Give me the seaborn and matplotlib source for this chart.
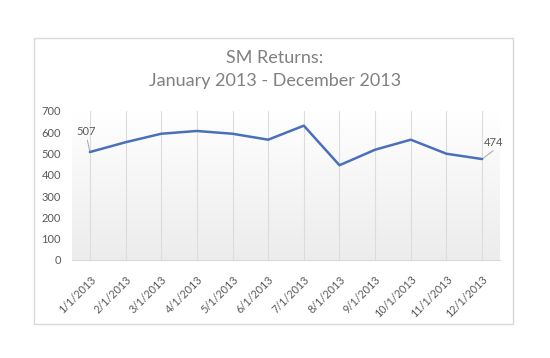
import numpy as np
import pandas as pd
import seaborn as sns
import matplotlib.pyplot as plt
from matplotlib.patches import Rectangle
from matplotlib.colors import LinearSegmentedColormap


months = ["1/1/2013", "2/1/2013", "3/1/2013", "4/1/2013", "5/1/2013", "6/1/2013",
          "7/1/2013", "8/1/2013", "9/1/2013", "10/1/2013", "11/1/2013", "12/1/2013"]
returns = [507, 553, 593, 606, 593, 565, 631, 445, 518, 565, 499, 474]

df = pd.DataFrame({"month": months, "returns": returns})

sns.set_style("white")
plt.rcParams["font.family"] = ["Lato", "DejaVu Sans"]

gray = "#595959"

fig = plt.figure(figsize=(5.5, 3.58), dpi=100)
ax = fig.add_axes([0.131, 0.274, 0.778, 0.416])

# outer chart border
fig.patches.append(Rectangle((34 / 550, 1 - 324 / 358), 479 / 550, 286 / 358,
                             transform=fig.transFigure, fill=False,
                             edgecolor="#d9d9d9", linewidth=1))

# soft gradient behind plot area: white at top, light gray at bottom
cmap = LinearSegmentedColormap.from_list("bg", ["#ffffff", "#ececec"])
grad = np.linspace(0.0, 1.0, 256).reshape(-1, 1)
ax.imshow(grad, extent=(-0.5, 11.5, 0, 700), aspect="auto", cmap=cmap,
          origin="upper", zorder=0)

sns.lineplot(data=df, x="month", y="returns", sort=False, color="#4a6fbb",
             linewidth=1.8, ax=ax, zorder=3)

ax.set_xlim(-0.5, 11.5)
ax.set_ylim(0, 700)
ax.set_yticks(range(0, 701, 100))
ax.set_xlabel("")
ax.set_ylabel("")

ax.set_xticks(range(len(months)))
ax.set_xticklabels(months, rotation=45, ha="right", rotation_mode="anchor",
                   fontsize=7.8, color=gray)
ax.set_xticks(np.arange(-0.5, 12, 1), minor=True)
ax.tick_params(axis="x", which="major", length=0, pad=10)
ax.tick_params(axis="x", which="minor", length=4, color="#d9d9d9", direction="out")
ax.tick_params(axis="y", length=0, labelsize=8, labelcolor=gray, pad=8)

ax.grid(axis="x", which="major", color="#dcdcdc", linewidth=0.8)
ax.grid(axis="y", visible=False)
ax.set_axisbelow(True)

for side in ["top", "right", "left"]:
    ax.spines[side].set_visible(False)
ax.spines["bottom"].set_color("#d9d9d9")

# data labels on first and last point, with leader lines
ax.plot([0, -0.07], [returns[0], 563], color="#a6a6a6", lw=0.7, zorder=2)
ax.text(-0.11, 603, str(returns[0]), fontsize=8, color=gray,
        ha="center", va="center")
ax.plot([11, 11.31], [returns[-1], 513], color="#a6a6a6", lw=0.7, zorder=2)
ax.text(11.33, 552, str(returns[-1]), fontsize=8, color=gray,
        ha="center", va="center")

fig.text(0.5, 1 - 58 / 358, "SM Returns:", ha="center", va="center",
         fontsize=13, color="#808080")
fig.text(0.5, 1 - 81 / 358, "January 2013 - December 2013", ha="center",
         va="center", fontsize=13, color="#808080")

fig.savefig("out.png", dpi=100)
